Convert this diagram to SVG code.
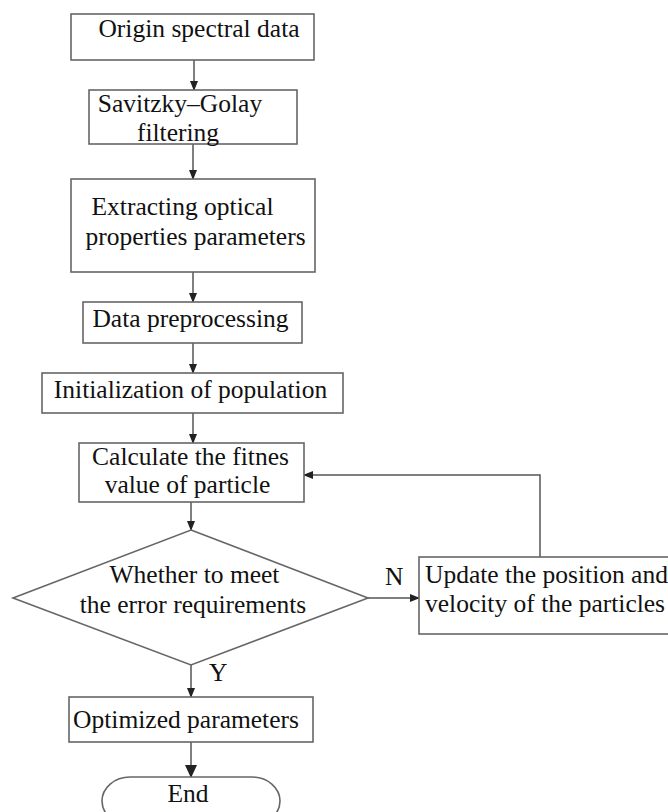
<svg xmlns="http://www.w3.org/2000/svg" width="668" height="812" viewBox="0 0 668 812">
<style>
.b{fill:#fff;stroke:#666;stroke-width:1.6}
.c{fill:none;stroke:#555;stroke-width:1.5}
text{font-family:"Liberation Serif","Times New Roman",serif;font-size:25.5px;fill:#111}
.m{text-anchor:middle}
</style>
<defs>
<marker id="a" markerWidth="10" markerHeight="8" refX="9" refY="4" orient="auto" markerUnits="userSpaceOnUse"><path d="M0,0 L10,4 L0,8 Z" fill="#222"/></marker>
<marker id="a2" markerWidth="13" markerHeight="12" refX="12" refY="6" orient="auto" markerUnits="userSpaceOnUse"><path d="M0,0 L13,6 L0,12 Z" fill="#222"/></marker>
</defs>
<rect width="668" height="812" fill="#fff"/>
<g id="connectors">
<line class="c" x1="194" y1="60" x2="194" y2="90" marker-end="url(#a)"/>
<line class="c" x1="193" y1="144" x2="193" y2="179" marker-end="url(#a)"/>
<line class="c" x1="193" y1="272" x2="193" y2="302" marker-end="url(#a)"/>
<line class="c" x1="193" y1="343" x2="193" y2="373" marker-end="url(#a)"/>
<line class="c" x1="193" y1="413" x2="193" y2="443" marker-end="url(#a)"/>
<line class="c" x1="191" y1="502" x2="191" y2="530" marker-end="url(#a)"/>
<line class="c" x1="368" y1="598" x2="419" y2="598" marker-end="url(#a)"/>
<polyline class="c" points="540,557 540,475 304,475" marker-end="url(#a)"/>
<line class="c" x1="191" y1="665" x2="191" y2="697" marker-end="url(#a)"/>
<line class="c" x1="191" y1="742" x2="191" y2="777" marker-end="url(#a2)"/>
<text x="385" y="585">N</text>
<text x="209" y="681">Y</text>
</g>
<g id="n1"><rect class="b" x="71" y="14" width="243" height="46"/><text class="m" x="199" y="37">Origin spectral data</text></g>
<g id="n2"><rect class="b" x="89" y="90" width="208" height="54"/><text class="m" x="180" y="112">Savitzky–Golay</text><text class="m" x="178" y="141">filtering</text></g>
<g id="n3"><rect class="b" x="71" y="179" width="244" height="93"/><text class="m" x="182.5" y="215">Extracting optical</text><text class="m" x="195.5" y="245">properties parameters</text></g>
<g id="n4"><rect class="b" x="83" y="302" width="219" height="41"/><text class="m" x="190.5" y="327">Data preprocessing</text></g>
<g id="n5"><rect class="b" x="42" y="373" width="301" height="40"/><text class="m" x="190.5" y="398">Initialization of population</text></g>
<g id="n6"><rect class="b" x="79" y="443" width="225" height="59"/><text class="m" x="190.5" y="465">Calculate the fitnes</text><text class="m" x="187.5" y="493">value of particle</text></g>
<g id="n7"><polygon class="b" points="191,530 368,598 191,665 13,598"/><text class="m" x="194.5" y="583">Whether to meet</text><text class="m" x="193" y="613">the error requirements</text></g>
<g id="n8"><rect class="b" x="419" y="557" width="255" height="77"/><text x="425" y="583">Update the position and</text><text x="425" y="612">velocity of the particles</text></g>
<g id="n9"><rect class="b" x="69" y="697" width="244" height="45"/><text class="m" x="186" y="728">Optimized parameters</text></g>
<g id="n10"><rect class="b" x="102" y="777" width="178" height="48" rx="28" ry="24"/><text class="m" x="188" y="802">End</text></g>
</svg>
